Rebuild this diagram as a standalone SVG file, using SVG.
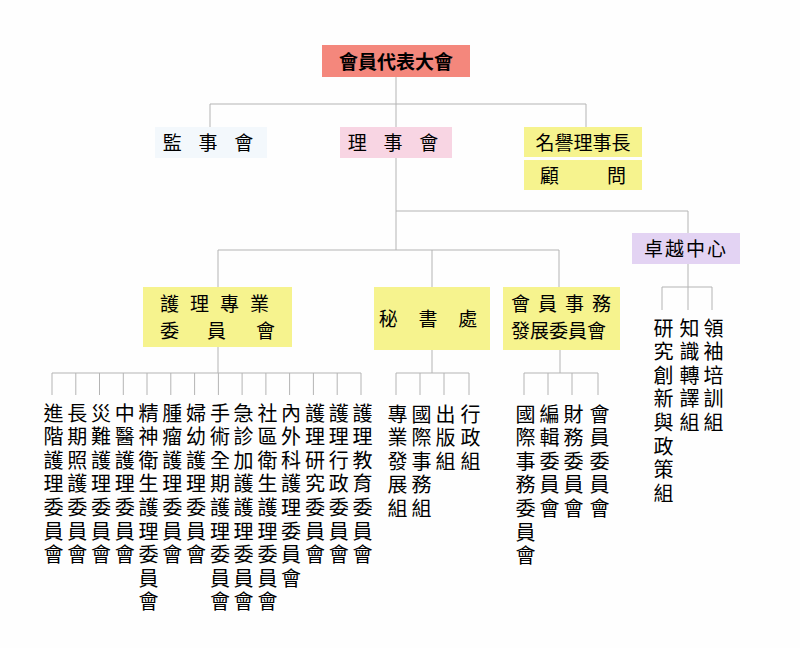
<svg xmlns="http://www.w3.org/2000/svg" width="800" height="648" viewBox="0 0 800 648">
<style>
text{font-family:"Liberation Serif","Noto Sans CJK TC",serif;font-size:19px;fill:#000}
.h{text-anchor:middle}
.v{writing-mode:vertical-rl;font-size:20px;letter-spacing:3.6px}
.c line{stroke:#b4b4b4;stroke-width:1}
</style>
<rect width="800" height="648" fill="#fefefe"/>
<g class="c" id="connectors">
<line x1="396" y1="77" x2="396" y2="127"/>
<line x1="210" y1="104" x2="586" y2="104"/>
<line x1="210" y1="104" x2="210" y2="127"/>
<line x1="586" y1="104" x2="586" y2="127"/>
<line x1="396" y1="158" x2="396" y2="250"/>
<line x1="396" y1="211" x2="688" y2="211"/>
<line x1="688" y1="211" x2="688" y2="233"/>
<line x1="218" y1="250" x2="559" y2="250"/>
<line x1="218" y1="250" x2="218" y2="287"/>
<line x1="432" y1="250" x2="432" y2="287"/>
<line x1="559" y1="250" x2="559" y2="287"/>
<line x1="218" y1="347" x2="218" y2="373"/>
<line x1="52" y1="373" x2="361" y2="373"/>
<g id="v1">
<line x1="52" y1="373" x2="52" y2="395"/><line x1="75.8" y1="373" x2="75.8" y2="395"/><line x1="99.5" y1="373" x2="99.5" y2="395"/><line x1="123.3" y1="373" x2="123.3" y2="395"/><line x1="147" y1="373" x2="147" y2="395"/><line x1="170.8" y1="373" x2="170.8" y2="395"/><line x1="194.6" y1="373" x2="194.6" y2="395"/><line x1="218.4" y1="373" x2="218.4" y2="395"/><line x1="242.1" y1="373" x2="242.1" y2="395"/><line x1="265.9" y1="373" x2="265.9" y2="395"/><line x1="289.6" y1="373" x2="289.6" y2="395"/><line x1="313.4" y1="373" x2="313.4" y2="395"/><line x1="337.2" y1="373" x2="337.2" y2="395"/><line x1="361" y1="373" x2="361" y2="395"/>
</g>
<line x1="432" y1="350" x2="432" y2="373"/>
<line x1="396" y1="373" x2="469" y2="373"/>
<line x1="396" y1="373" x2="396" y2="395"/><line x1="420" y1="373" x2="420" y2="395"/><line x1="444" y1="373" x2="444" y2="395"/><line x1="469" y1="373" x2="469" y2="395"/>
<line x1="560" y1="350" x2="560" y2="373"/>
<line x1="524" y1="373" x2="598" y2="373"/>
<line x1="524" y1="373" x2="524" y2="395"/><line x1="548" y1="373" x2="548" y2="395"/><line x1="572" y1="373" x2="572" y2="395"/><line x1="598" y1="373" x2="598" y2="395"/>
<line x1="688" y1="264" x2="688" y2="287"/>
<line x1="662" y1="287" x2="712" y2="287"/>
<line x1="662" y1="287" x2="662" y2="310"/><line x1="688" y1="287" x2="688" y2="310"/><line x1="712" y1="287" x2="712" y2="310"/>
</g>
<g id="n-top"><rect x="322" y="45" width="148" height="32" fill="#f4877c"/><text class="h" x="396" y="69" font-weight="bold" font-size="20">會員代表大會</text></g>
<g id="n-jian"><rect x="155" y="127" width="112" height="31" fill="#f3f8fc"/><text class="h" x="211" y="150" letter-spacing="6">監 事 會</text></g>
<g id="n-li"><rect x="340" y="127" width="112" height="31" fill="#f8d5e3"/><text class="h" x="396" y="150" letter-spacing="6">理 事 會</text></g>
<g id="n-ming"><rect x="524" y="127" width="118" height="30" fill="#f6f38e"/><text class="h" x="583" y="150">名譽理事長</text></g>
<g id="n-gu"><rect x="524" y="160" width="118" height="30" fill="#f6f38e"/><text x="540" y="183">顧</text><text x="607" y="183">問</text></g>
<g id="n-zhuo"><rect x="632" y="233" width="108" height="31" fill="#e3d3f3"/><text class="h" x="686" y="256" letter-spacing="2">卓越中心</text></g>
<g id="n-hu"><rect x="143" y="287" width="149" height="60" fill="#f6f38e"/><text x="160" y="311" letter-spacing="11">護理專業</text><text x="160" y="338">委</text><text x="207" y="338">員</text><text x="256" y="338">會</text></g>
<g id="n-mi"><rect x="374" y="287" width="116" height="63" fill="#f6f38e"/><text class="h" x="432" y="326" letter-spacing="8">秘 書 處</text></g>
<g id="n-hui"><rect x="503" y="287" width="117" height="63" fill="#f6f38e"/><text x="511" y="311" letter-spacing="8">會員事務</text><text x="511" y="338">發展委員會</text></g>
<g id="leaves">
<text class="v" x="52" y="403">進階護理委員會</text>
<text class="v" x="75.8" y="403">長期照護委員會</text>
<text class="v" x="99.5" y="403">災難護理委員會</text>
<text class="v" x="123.3" y="403">中醫護理委員會</text>
<text class="v" x="147" y="403">精神衛生護理委員會</text>
<text class="v" x="170.8" y="403">腫瘤護理委員會</text>
<text class="v" x="194.6" y="403">婦幼護理委員會</text>
<text class="v" x="218.4" y="403">手術全期護理委員會</text>
<text class="v" x="242.1" y="403">急診加護護理委員會</text>
<text class="v" x="265.9" y="403">社區衛生護理委員會</text>
<text class="v" x="289.6" y="403">內外科護理委員會</text>
<text class="v" x="313.4" y="403">護理研究委員會</text>
<text class="v" x="337.2" y="403">護理行政委員會</text>
<text class="v" x="361" y="403">護理教育委員會</text>
<text class="v" x="396" y="404">專業發展組</text>
<text class="v" x="420" y="404">國際事務組</text>
<text class="v" x="444" y="404">出版組</text>
<text class="v" x="469" y="404">行政組</text>
<text class="v" x="524" y="404">國際事務委員會</text>
<text class="v" x="548" y="404">編輯委員會</text>
<text class="v" x="572" y="404">財務委員會</text>
<text class="v" x="598" y="404">會員委員會</text>
<text class="v" x="662" y="318">研究創新與政策組</text>
<text class="v" x="688" y="318">知識轉譯組</text>
<text class="v" x="712" y="318">領袖培訓組</text>
</g>
</svg>
